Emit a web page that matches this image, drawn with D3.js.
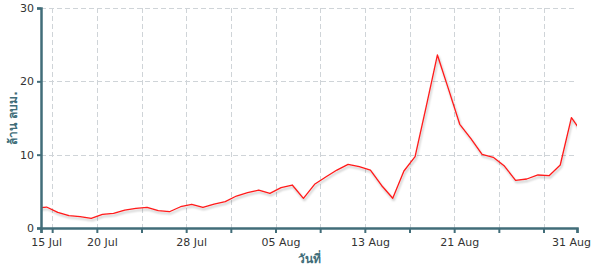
<!DOCTYPE html>
<html><head><meta charset="utf-8">
<script src="https://cdn.jsdelivr.net/npm/d3@7"></script>
<style>
html,body{margin:0;padding:0;background:#fff;}
svg{display:block;font-family:"DejaVu Sans",Verdana,sans-serif;}
</style></head>
<body><svg id="chart" width="595" height="265"></svg>
<script>
// ---- data ----
const dates = ["2021-07-14","2021-07-15","2021-07-16","2021-07-17","2021-07-18","2021-07-19","2021-07-20","2021-07-21","2021-07-22","2021-07-23","2021-07-24","2021-07-25","2021-07-26","2021-07-27","2021-07-28","2021-07-29","2021-07-30","2021-07-31","2021-08-01","2021-08-02","2021-08-03","2021-08-04","2021-08-05","2021-08-06","2021-08-07","2021-08-08","2021-08-09","2021-08-10","2021-08-11","2021-08-12","2021-08-13","2021-08-14","2021-08-15","2021-08-16","2021-08-17","2021-08-18","2021-08-19","2021-08-20","2021-08-21","2021-08-22","2021-08-23","2021-08-24","2021-08-25","2021-08-26","2021-08-27","2021-08-28","2021-08-29","2021-08-30","2021-08-31","2021-09-01"];
const values = [2.7,2.86,2.14,1.68,1.54,1.32,1.87,2.0,2.45,2.69,2.82,2.36,2.22,2.9,3.23,2.82,3.27,3.59,4.36,4.81,5.18,4.73,5.5,5.86,4.05,5.96,6.95,7.9,8.68,8.36,7.9,5.8,4.05,7.77,9.73,16.6,23.6,18.9,14.14,12.2,10.05,9.64,8.45,6.5,6.68,7.23,7.13,8.59,15.04,12.9];
const gridDates = ["2021-07-15","2021-07-16","2021-07-20","2021-07-24","2021-07-28","2021-08-01","2021-08-05","2021-08-09","2021-08-13","2021-08-17","2021-08-21","2021-08-25","2021-08-29","2021-09-01"];
const labelDates = ["2021-07-15","2021-07-20","2021-07-28","2021-08-05","2021-08-13","2021-08-21","2021-08-31"];
const yTicks = [0,10,20,30];
const domainDates = ["2021-07-15","2021-09-01"];
const yTitle = "ล้าน ลบม.";
const xTitle = "วันที่";

// ---- layout ----
const parse = d3.utcParse("%Y-%m-%d");
const HALF = 12*3600*1000;
const m = {l:41, r:577, t:8, b:228};
const axisColor = "#416d79";
const svg = d3.select("#chart");

const x = d3.scaleUtc().domain(domainDates.map(parse)).range([m.l, m.r]);
const y = d3.scaleLinear().domain([0,30]).range([m.b, m.t]);

const defs = svg.append("defs");
defs.append("clipPath").attr("id","clip").append("rect")
  .attr("x", m.l).attr("y", 0).attr("width", m.r-m.l).attr("height", m.b);
const f = defs.append("filter").attr("id","shadow").attr("x","-10%").attr("y","-10%").attr("width","120%").attr("height","130%");
f.append("feDropShadow").attr("dx",1).attr("dy",2).attr("stdDeviation",1).attr("flood-color","#000").attr("flood-opacity",0.28);

// grid
const grid = svg.append("g").attr("stroke","#cfd4d8").attr("stroke-width",1).attr("stroke-dasharray","5,3").attr("fill","none");
grid.selectAll("line.v").data(gridDates.slice(1,-1).map(parse)).join("line").attr("class","v")
  .attr("x1", d=>Math.round(x(d))+0.5).attr("x2", d=>Math.round(x(d))+0.5)
  .attr("y1", m.t).attr("y2", m.b);
grid.selectAll("line.h").data(yTicks.filter(d=>d>0)).join("line").attr("class","h")
  .attr("x1", m.l).attr("x2", m.r)
  .attr("y1", d=>Math.round(y(d))+0.5).attr("y2", d=>Math.round(y(d))+0.5);

// line
const pts = dates.map((d,i)=>({date:new Date(parse(d).getTime()+HALF), v:values[i]}));
const line = d3.line().x(d=>x(d.date)).y(d=>y(d.v));
svg.append("g").attr("clip-path","url(#clip)")
  .append("path").datum(pts).attr("d", line)
  .attr("fill","none").attr("stroke","#ff1a1a").attr("stroke-width",1.3)
  .attr("stroke-linejoin","round").attr("filter","url(#shadow)");

// x axis
const xAxis = d3.axisBottom(x).tickValues(gridDates.map(parse)).tickSize(5).tickFormat("");
const gx = svg.append("g").attr("transform",`translate(0,${m.b})`).call(xAxis);
gx.select(".domain").attr("stroke",axisColor).attr("stroke-width",2.5);
gx.selectAll(".tick line").attr("stroke",axisColor).attr("stroke-width",2);
const fmt = d3.utcFormat("%d %b");
svg.append("g").selectAll("text").data(labelDates.map(parse)).join("text")
  .attr("x", d=>x(new Date(d.getTime()+HALF)))
  .attr("y", 246)
  .attr("text-anchor","middle").attr("font-size",11).attr("fill","#333")
  .text(d=>fmt(d));

// y axis
const yAxis = d3.axisLeft(y).tickValues(yTicks).tickSize(4).tickPadding(3);
const gy = svg.append("g").attr("transform",`translate(${m.l},0)`).call(yAxis);
gy.select(".domain").attr("stroke",axisColor).attr("stroke-width",2.5);
gy.selectAll(".tick line").attr("stroke",axisColor).attr("stroke-width",2);
gy.selectAll(".tick text").attr("font-size",11).attr("fill","#333").attr("font-family","DejaVu Sans, sans-serif");

// titles
svg.append("text").attr("transform",`translate(17,${(m.t+m.b)/2}) rotate(-90)`)
  .attr("text-anchor","middle").attr("font-size",12).attr("font-weight","bold").attr("fill",axisColor)
  .text(yTitle);
svg.append("text").attr("x",(m.l+m.r)/2).attr("y",263)
  .attr("text-anchor","middle").attr("font-size",12).attr("font-weight","bold").attr("fill",axisColor)
  .text(xTitle);
</script></body></html>
